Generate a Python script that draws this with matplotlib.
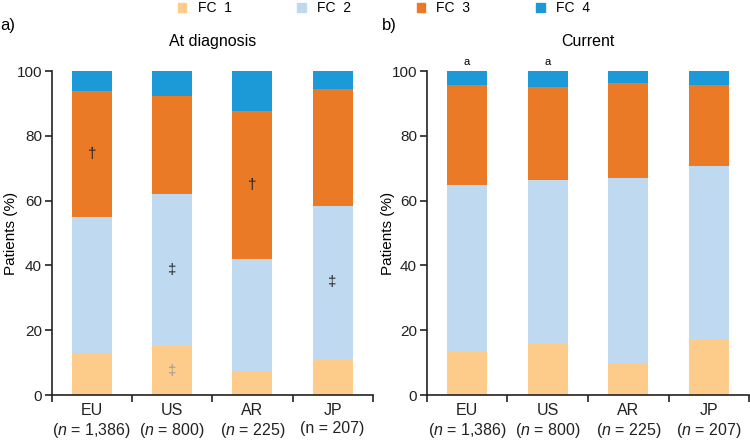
import matplotlib
matplotlib.use("Agg")
import matplotlib.pyplot as plt
from matplotlib.patches import Patch
import numpy as np

regions = ["EU", "US", "AR", "JP"]
n_left = ["($\\it{n}$ = 1,386)", "($\\it{n}$ = 800)", "($\\it{n}$ = 225)", "(n = 207)"]
n_right = ["($\\it{n}$ = 1,386)", "($\\it{n}$ = 800)", "($\\it{n}$ = 225)", "($\\it{n}$ = 207)"]
fc_names = ["FC  1", "FC  2", "FC  3", "FC  4"]

# percent of patients per functional class
diag_fc1 = [13.0, 15.2, 7.2, 11.2]
diag_fc2 = [41.9, 46.8, 34.7, 47.1]
diag_fc3 = [38.9, 30.4, 45.8, 36.0]
diag_fc4 = [6.2, 7.6, 12.3, 5.7]

curr_fc1 = [13.7, 15.8, 9.7, 17.2]
curr_fc2 = [51.0, 50.7, 57.3, 53.5]
curr_fc3 = [31.0, 28.6, 29.4, 25.0]
curr_fc4 = [4.3, 4.9, 3.6, 4.3]

# significance marks: (region index, class index, symbol, grey?)
diag_marks = [(0, 2, "\u2020", False), (1, 1, "\u2021", False), (1, 0, "\u2021", True),
              (2, 2, "\u2020", False), (3, 1, "\u2021", False)]
curr_top_marks = [(0, "a"), (1, "a")]

colors = ["#FECC8A", "#BFD9F0", "#EB7A26", "#1B9AD7"]

plt.rcParams.update({
    "font.family": ["Liberation Sans", "DejaVu Sans"],
    "font.size": 11,
    "mathtext.fontset": "custom",
    "mathtext.it": "Liberation Sans:italic",
    "mathtext.rm": "Liberation Sans",
    "axes.linewidth": 1.2,
    "axes.edgecolor": "#222222",
    "xtick.color": "#222222",
    "ytick.color": "#222222",
})

fig = plt.figure(figsize=(7.5, 4.41), dpi=100)
ax_a = fig.add_axes([0.069, 0.104, 0.428, 0.735])
ax_b = fig.add_axes([0.569, 0.104, 0.430, 0.735])


def draw_panel(ax, series, title, nlabels, label_x):
    x = np.arange(len(regions))
    bottom = np.zeros(len(regions))
    for vals, c in zip(series, colors):
        ax.bar(x, vals, width=0.5, bottom=bottom, color=c, linewidth=0)
        bottom += np.array(vals)
    ax.set_xlim(-0.5, len(regions) - 0.5)
    ax.set_ylim(0, 100)
    ax.set_yticks(range(0, 101, 20))
    ax.set_xticks(x)
    ax.set_xticklabels([f"{r}\n{n}" for r, n in zip(regions, nlabels)],
                       linespacing=1.2, fontsize=11.5)
    ax.set_xticks(np.arange(len(regions) + 1) - 0.5, minor=True)
    ax.tick_params(axis="x", which="major", length=0, pad=6)
    ax.tick_params(axis="x", which="minor", length=5, width=1.2, direction="out")
    ax.tick_params(axis="y", length=5, width=1.2, direction="out", pad=2)
    for s in ["top", "right"]:
        ax.spines[s].set_visible(False)
    ax.set_ylabel("Patients (%)", fontsize=11)
    ax.yaxis.set_label_coords(label_x, 0.5)
    ax.set_title(title, fontsize=11.5, pad=18)
    return np.cumsum(np.array(series), axis=0)


diag = [diag_fc1, diag_fc2, diag_fc3, diag_fc4]
curr = [curr_fc1, curr_fc2, curr_fc3, curr_fc4]
cum_a = draw_panel(ax_a, diag, "At diagnosis", n_left, -0.106)
cum_b = draw_panel(ax_b, curr, "Current", n_right, -0.098)

for i, k, sym, grey in diag_marks:
    lo = cum_a[k - 1][i] if k > 0 else 0
    mid = (lo + cum_a[k][i]) / 2
    ax_a.text(i, mid, sym, ha="center", va="center", fontsize=11,
              color="#9a9a9a" if grey else "#222222")

for i, sym in curr_top_marks:
    ax_b.annotate(sym, (i, cum_b[-1][i]), xytext=(0, 3), textcoords="offset points",
                  ha="center", va="bottom", fontsize=8, annotation_clip=False)

fig.text(0.0, 0.943, "a)", fontsize=12, va="center")
fig.text(0.509, 0.943, "b)", fontsize=12, va="center")

handles = [Patch(color=c, label=n) for c, n in zip(colors, fc_names)]
fig.legend(handles=handles, loc="upper center", bbox_to_anchor=(0.512, 1.025), ncol=4,
           frameon=False, handlelength=0.6, handleheight=0.6, handletextpad=0.8,
           columnspacing=4.75, fontsize=10)

fig.savefig("out.png", dpi=100)
